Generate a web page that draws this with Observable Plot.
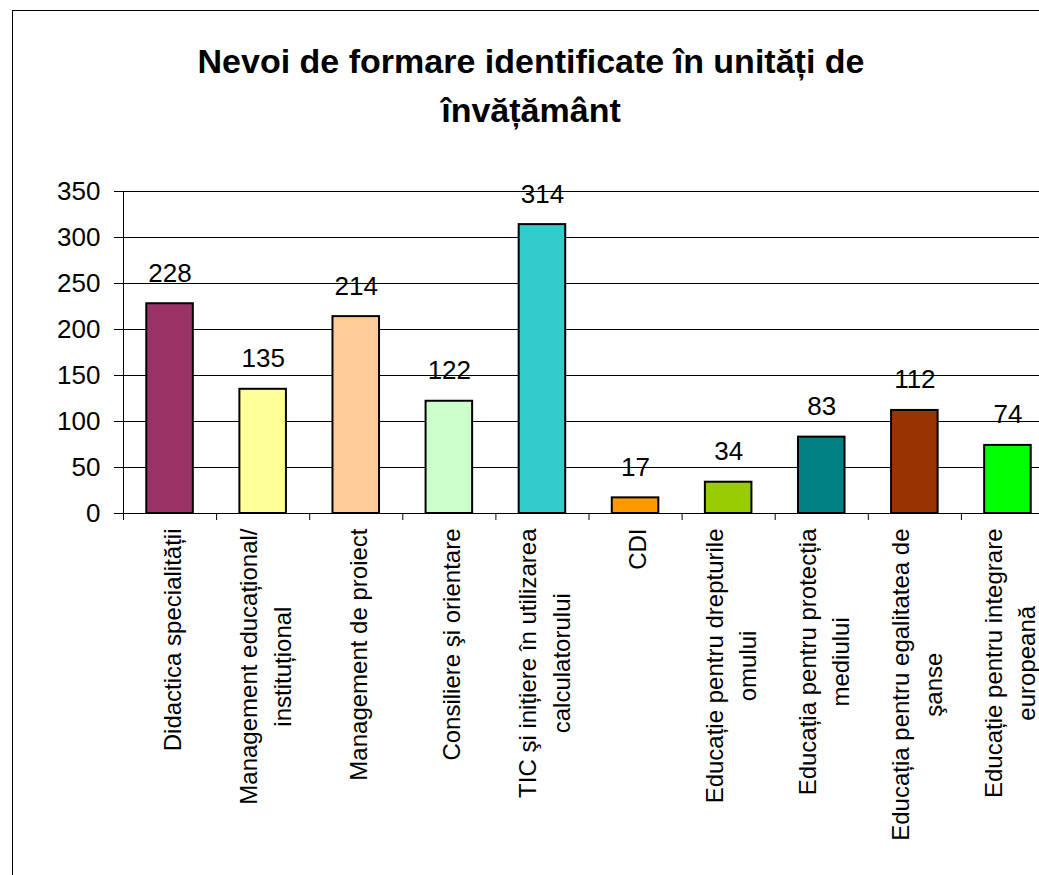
<!DOCTYPE html>
<html>
<head>
<meta charset="utf-8">
<script src="https://cdn.jsdelivr.net/npm/d3@7"></script>
<script src="https://cdn.jsdelivr.net/npm/@observablehq/plot@0.6"></script>
<style>
  body { margin: 0; background: #fff; width: 1039px; height: 875px; overflow: hidden; position: relative;
         font-family: Arial, "Liberation Sans", sans-serif; }
  #chart { position: absolute; left: 0; top: 0; }
  #title { position: absolute; left: 12px; width: 1038px; top: 37px; text-align: center;
           font-size: 34px; font-weight: bold; line-height: 49px; color: #000; }
  #frame { position: absolute; left: 12px; top: 10px; width: 1100px; height: 1000px;
           border: 1px solid #000; pointer-events: none; }
</style>
</head>
<body>
<div id="chart"></div>
<div id="title">Nevoi de formare identificate în unități de<br>învățământ</div>
<div id="frame"></div>
<script>
const categories = [
  "Didactica specialității",
  "Management educațional/\ninstituțional",
  "Management de proiect",
  "Consiliere şi orientare",
  "TIC şi inițiere în utilizarea\ncalculatorului",
  "CDI",
  "Educație pentru drepturile\nomului",
  "Educația pentru protecția\nmediului",
  "Educația pentru egalitatea de\nşanse",
  "Educație pentru integrare\neuropeană"
];
const values = [228, 135, 214, 122, 314, 17, 34, 83, 112, 74];
const colors = ["#993366", "#FFFF99", "#FFCC99", "#CCFFCC", "#33CCCC",
                "#FF9900", "#99CC00", "#008080", "#993300", "#00FF00"];
const yTicks = [0, 50, 100, 150, 200, 250, 300, 350];

const data = categories.map((c, i) => ({i, label: c, value: values[i], color: colors[i]}));
const n = categories.length;

const chart = Plot.plot({
  width: 1039,
  height: 875,
  marginLeft: 123,
  marginRight: 0,
  marginTop: 191,
  marginBottom: 362,
  style: {fontFamily: 'Arial, "Liberation Sans", sans-serif', color: "#000", background: "transparent"},
  x: {type: "linear", domain: [0, n], range: [123, 1054], axis: null},
  y: {domain: [0, 350], range: [513, 191], axis: null},
  marks: [
    Plot.ruleY(yTicks, {x1: 0, x2: n, stroke: "#000", strokeWidth: 1}),
    Plot.ruleX([0], {y1: 0, y2: 350, stroke: "#000"}),
    Plot.axisY({ticks: yTicks, tickSize: 9, tickPadding: 14, fontSize: 26, label: null, tickFormat: d => String(d)}),
    Plot.axisX({ticks: d3.range(n + 1), tickSize: 7, tickFormat: () => "", label: null}),
    Plot.rectY(data, {
      x1: d => d.i + 0.25, x2: d => d.i + 0.75, y1: 0, y2: "value",
      fill: d => d.color, stroke: "#000", strokeWidth: 2
    }),
    Plot.text(data, {
      x: d => d.i + 0.5, y: "value", text: d => String(d.value),
      dy: -22, lineAnchor: "bottom", fontSize: 26, fill: "#000"
    }),
    Plot.text(data, {
      x: d => d.i + 0.5, y: () => 0, text: "label",
      rotate: -90, textAnchor: "end", lineAnchor: "middle", lineHeight: 1.4,
      dy: 15, fontSize: 24, fill: "#000"
    })
  ]
});
document.getElementById("chart").appendChild(chart);

// center the lines of multi-line rotated category labels relative to each other
d3.select(chart).selectAll("text").each(function() {
  const t = this.getAttribute("transform") || "";
  if (!t.includes("rotate(-90")) return;
  const spans = this.querySelectorAll("tspan");
  if (spans.length < 2) return;
  let maxLen = 0;
  spans.forEach(s => { maxLen = Math.max(maxLen, s.getComputedTextLength()); });
  this.setAttribute("text-anchor", "middle");
  spans.forEach(s => s.setAttribute("x", -maxLen / 2));
});
</script>
</body>
</html>
